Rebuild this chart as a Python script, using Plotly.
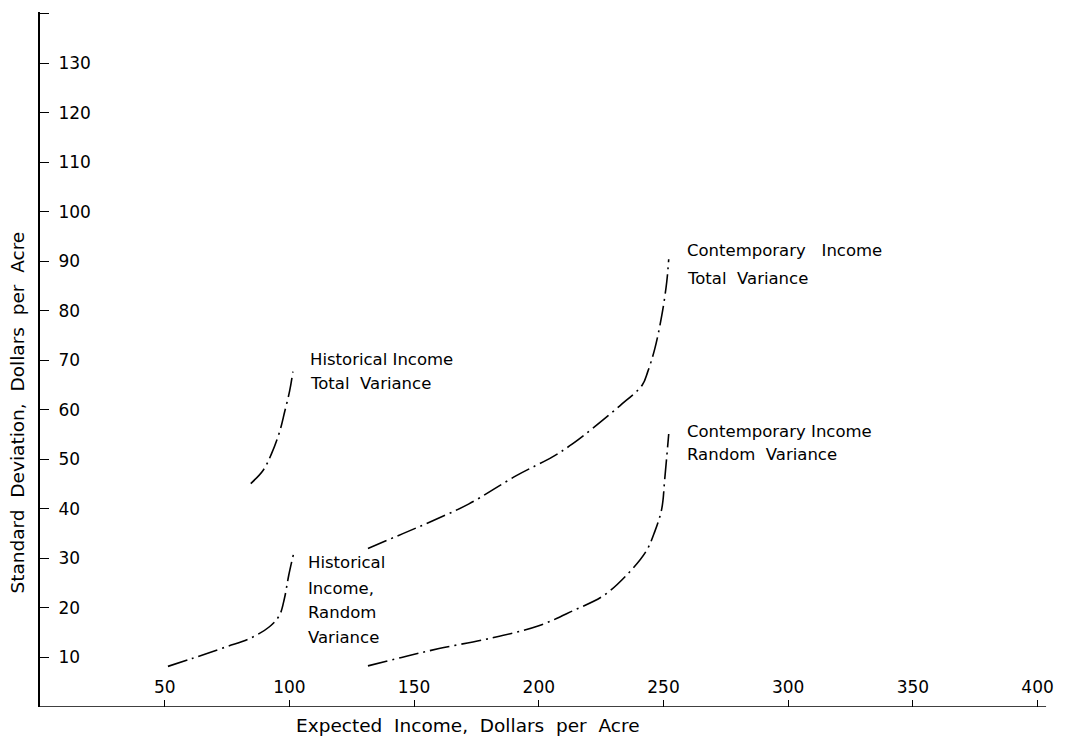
import plotly.graph_objects as go

# Expected income (x) and standard deviation (y), dollars per acre
hist_total_x = [84.5, 89.5, 92.8, 96.1, 98.1, 100.1, 101.4]
hist_total_y = [45.1, 47.8, 51.1, 55.6, 59.6, 63.8, 67.7]

hist_random_x = [51.3, 61.0, 75.0, 84.0, 92.0, 96.0, 98.0, 99.7, 101.7]
hist_random_y = [8.2, 9.8, 12.2, 13.8, 16.2, 18.5, 21.9, 26.5, 31.0]

cont_total_x = [131.5, 145.5, 157.5, 172.0, 191.0, 205.5, 213.5, 221.5,
                232.5, 241.5, 243.7, 246.5, 249.3, 251.3, 252.1]
cont_total_y = [32.0, 35.0, 37.6, 41.0, 46.7, 50.5, 53.1, 56.2,
                60.8, 65.0, 67.7, 72.3, 79.0, 85.8, 90.4]

cont_random_x = [131.5, 145.0, 160.0, 180.0, 200.0, 214.0, 226.0, 235.0,
                 243.0, 246.5, 249.3, 250.5, 252.1]
cont_random_y = [8.3, 10.0, 11.8, 13.8, 16.4, 19.5, 22.5, 26.5,
                 31.4, 35.4, 40.0, 46.0, 55.1]

x_ticks = [50, 100, 150, 200, 250, 300, 350, 400]
y_ticks = [10, 20, 30, 40, 50, 60, 70, 80, 90, 100, 110, 120, 130, 140]
y_tick_text = [str(v) for v in y_ticks[:-1]] + [""]

X_AXIS_END = 403.4

FONT = "DejaVu Sans"
DASH = "20px,5px,2px,5px"

fig = go.Figure()
for xs, ys in [(hist_total_x, hist_total_y), (hist_random_x, hist_random_y),
               (cont_total_x, cont_total_y), (cont_random_x, cont_random_y)]:
    fig.add_trace(go.Scatter(
        x=xs, y=ys, mode="lines", line_shape="spline",
        line=dict(color="black", width=1.6, dash=DASH),
        showlegend=False, hoverinfo="skip"))

# curve labels, one annotation per text line
labels = [
    (107.3, 70.2, "Historical Income"),
    (107.3, 65.4, "Total  Variance"),
    (258.8, 92.2, "Contemporary   Income"),
    (258.8, 86.6, "Total  Variance"),
    (258.8, 55.7, "Contemporary Income"),
    (258.8, 50.9, "Random  Variance"),
    (106.5, 29.1, "Historical"),
    (106.5, 24.0, "Income,"),
    (106.5, 19.0, "Random"),
    (106.5, 14.1, "Variance"),
]
for lx, ly, txt in labels:
    fig.add_annotation(x=lx, y=ly, text=txt, showarrow=False,
                       xanchor="left", yanchor="middle",
                       font=dict(family=FONT, size=16.5, color="black"))

# axis titles
fig.add_annotation(x=171.5, y=-0.026, xref="x", yref="paper",
                   text="Expected  Income,  Dollars  per  Acre",
                   showarrow=False, xanchor="center", yanchor="middle",
                   font=dict(family=FONT, size=18.5, color="black"))
fig.add_annotation(x=-0.022, y=59.5, xref="paper", yref="y",
                   text="Standard  Deviation,  Dollars  per  Acre",
                   textangle=-90, showarrow=False,
                   xanchor="center", yanchor="middle",
                   font=dict(family=FONT, size=18.5, color="black"))

# horizontal axis line stops just past the last tick
fig.add_shape(type="line", xref="x", yref="y",
              x0=0, x1=X_AXIS_END, y0=0, y1=0,
              line=dict(color="black", width=1.6))

fig.update_layout(
    width=1075, height=737,
    margin=dict(l=40, r=5, t=12, b=30),
    paper_bgcolor="white", plot_bgcolor="white",
    font=dict(family=FONT, size=17, color="black"),
)
fig.update_xaxes(
    range=[0, 413.0], showgrid=False, zeroline=False, showline=False,
    tickvals=x_ticks, ticks="inside", ticklen=7, tickwidth=1.4,
    tickcolor="black", ticklabelposition="inside", ticklabelstandoff=4,
    tickfont=dict(family=FONT, size=17, color="black"),
)
fig.update_yaxes(
    range=[0, 140.3], showgrid=False, zeroline=False,
    showline=True, linecolor="black", linewidth=1.6,
    tickvals=y_ticks, ticktext=y_tick_text,
    ticks="inside", ticklen=9, tickwidth=1.4, tickcolor="black",
    ticklabelposition="inside", ticklabelstandoff=10,
    tickfont=dict(family=FONT, size=17, color="black"),
)

fig.write_html("out.html")
